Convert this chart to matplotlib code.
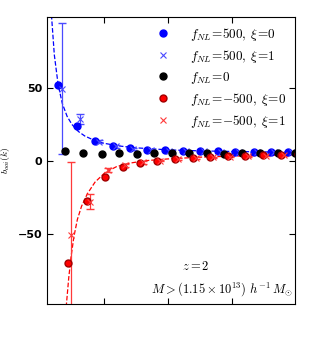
import numpy as np
import matplotlib
matplotlib.use('Agg')
import matplotlib.pyplot as plt

plt.rcParams['mathtext.fontset'] = 'cm'

# k bins (h/Mpc) and measured bias
k_bins = [0.0057, 0.0115, 0.0172, 0.0227, 0.0281, 0.0335, 0.0391,
          0.0446, 0.0500, 0.0555, 0.0610, 0.0667, 0.0721, 0.0776]

b_p500_xi0 = [52.0, 24.0, 13.7, 10.5, 8.7, 7.7, 7.3, 6.9, 6.8, 6.6, 6.4, 6.2, 6.0, 5.9]
b_p500_xi1 = [49.5, 28.8, 13.2, 10.0, 8.4, 7.5, 7.1, 6.8, 6.6, 6.4, 6.3, 6.1, 5.9, 5.8]
e_p500_xi1 = [45.0, 3.2, 1.2, 0.8, 0.6, 0.5, 0.4, 0.4, 0.3, 0.3, 0.3, 0.3, 0.3, 0.3]
b_f0 = [6.5, 5.2, 5.1, 5.2, 5.1, 5.2, 5.3, 5.2, 5.3, 5.1, 5.2, 5.3, 5.2, 5.3]
b_m500_xi0 = [-70.0, -27.2, -10.8, -3.9, -1.6, -0.2, 1.6, 2.1, 2.7, 3.4, 3.4, 3.9, 4.3, 4.5]
b_m500_xi1 = [-51.0, -27.9, -6.2, -3.0, -1.0, 0.3, 1.3, 2.0, 2.6, 3.0, 3.3, 3.7, 4.0, 4.3]
e_m500_xi1 = [50.0, 5.0, 1.6, 1.0, 0.8, 0.6, 0.5, 0.4, 0.4, 0.3, 0.3, 0.3, 0.3, 0.3]

# theory curves
k_th_p = [0.0036, 0.0045, 0.0057, 0.0070, 0.0085, 0.0100, 0.0120, 0.0140, 0.0170,
          0.0200, 0.0250, 0.0300, 0.0400, 0.0500, 0.0600, 0.0700, 0.0800]
b_th_p = [100.0, 72.6, 52.0, 39.3, 30.5, 25.0, 20.2, 17.1, 14.1,
          12.1, 10.2, 9.0, 7.6, 6.9, 6.5, 6.2, 6.0]
k_th_m = [0.0082, 0.0090, 0.0097, 0.0106, 0.0117, 0.0130, 0.0148, 0.0172, 0.0203,
          0.0240, 0.0280, 0.0330, 0.0400, 0.0500, 0.0600, 0.0700, 0.0800]
b_th_m = [-100.0, -80.0, -66.0, -52.0, -40.0, -31.0, -22.5, -14.5, -8.0,
          -3.8, -1.5, 0.2, 1.4, 2.6, 3.3, 3.8, 4.2]

k = np.array(k_bins)
blue_x = '#4a4aff'
red_x = '#ff3a3a'

fig = plt.figure(figsize=(3.11, 3.48), dpi=100)
ax = fig.add_axes([0.151, 0.126, 0.798, 0.825])

ax.plot(k_th_p, b_th_p, '--', color='b', lw=0.9)
ax.plot(k_th_m, b_th_m, '--', color='r', lw=0.9)

# error bars of the xi=1 runs
ax.errorbar(k + 0.0011, b_p500_xi1, yerr=e_p500_xi1, fmt='none', ecolor=blue_x,
            elinewidth=0.9, capsize=3)
ax.errorbar(k + 0.0040, b_m500_xi1, yerr=e_m500_xi1, fmt='none', ecolor=red_x,
            elinewidth=0.9, capsize=3)

ax.plot(k, b_p500_xi0, 'o', color='b', ms=5, label=r'$f_{NL}\!=\!500,\;\xi\!=\!0$')
ax.plot(k + 0.0011, b_p500_xi1, 'x', color=blue_x, ms=5, mew=0.8,
        label=r'$f_{NL}\!=\!500,\;\xi\!=\!1$')
ax.plot(k + 0.0021, b_f0, 'o', color='k', ms=5, label=r'$f_{NL}\!=\!0$')
ax.plot(k + 0.0031, b_m500_xi0, 'o', color='r', ms=5, mec='#a00000',
        label=r'$f_{NL}\!=\!{-}500,\;\xi\!=\!0$')
ax.plot(k + 0.0040, b_m500_xi1, 'x', color=red_x, ms=5, mew=0.8,
        label=r'$f_{NL}\!=\!{-}500,\;\xi\!=\!1$')

ax.set_xlim(0.0022, 0.0797)
ax.set_ylim(-98, 98.5)
ax.set_xticks([0.02, 0.04, 0.06])
ax.set_xticklabels([])
ax.set_yticks([-50, 0, 50])
ax.tick_params(direction='in', top=True, right=True, length=4, labelsize=8)
for lab in ax.get_yticklabels():
    lab.set_fontweight('bold')
ax.set_ylabel(r'$b_{ooi}(k)$', fontsize=7, labelpad=4)

ax.legend(loc='upper right', frameon=False, numpoints=1, fontsize=9.5,
          handletextpad=1.1, labelspacing=0.38, borderaxespad=0.25)

ax.text(0.6, 0.12, r'$z=2$', transform=ax.transAxes, ha='center', fontsize=9)
ax.text(0.99, 0.04, r'$M>(1.15\times10^{13})\ h^{-1}\,M_{\odot}$',
        transform=ax.transAxes, ha='right', fontsize=9)

fig.savefig('out.png', dpi=100)
